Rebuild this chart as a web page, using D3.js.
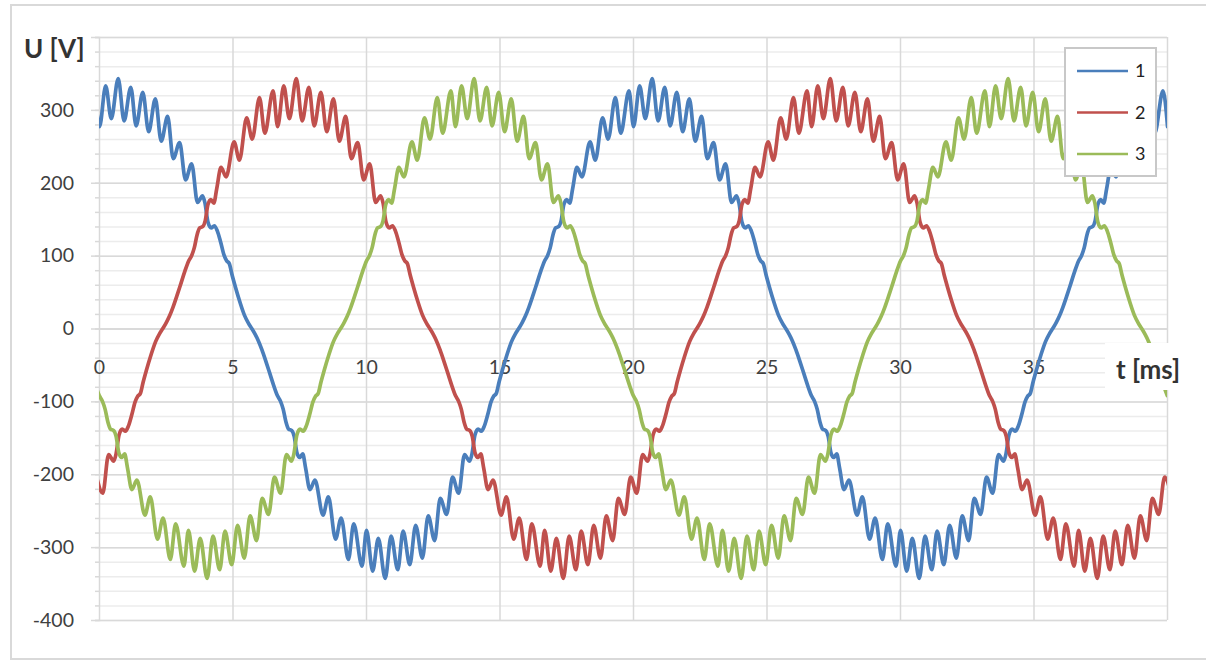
<!DOCTYPE html>
<html><head><meta charset="utf-8">
<script src="https://cdn.jsdelivr.net/npm/d3@7"></script>
<style>
body{margin:0;background:#fff}
svg{display:block}
text{font-family:Lato,"Open Sans","Liberation Sans",sans-serif}
</style>
</head><body>
<svg id="c" width="1206" height="665"></svg>
<script>
// ---------- data ----------
const seriesNames = ["1", "2", "3"];
const seriesColors = ["#4a7ebb", "#c0504d", "#9bbb59"];
const yMajorTicks = [-400, -300, -200, -100, 0, 100, 200, 300, 400];
const yTickLabels = ["-400", "-300", "-200", "-100", "0", "100", "200", "300", ""];
const xTicks = [0, 5, 10, 15, 20, 25, 30, 35, 40];
const xTickLabels = ["0", "5", "10", "15", "20", "25", "30", "35", ""];

// series 1 : time [ms] / voltage [V]
const t1 = [-0.15,
0.02,0.25,0.46,0.72,0.94,1.19,1.39,1.64,1.86,2.11,2.33,2.57,2.78,3.02,3.24,3.47,3.69,3.88,3.97,4.08,4.2,4.32,4.43,4.56,4.68,4.78,4.88,4.98,5.1,5.28,5.45,5.6,5.72,5.85,5.97,6.1,6.25,6.4,6.55,6.68,6.8,6.9,7,7.1,7.22,7.31,7.41,7.52,7.63,7.74,7.9,8.09,8.39,8.59,8.86,9.07,9.34,9.54,9.85,
10.02,10.25,10.46,10.72,10.94,11.19,11.39,11.64,11.86,12.11,12.33,12.57,12.78,13.02,13.24,13.47,13.69,13.88,13.97,14.08,14.2,14.32,14.43,14.56,14.68,14.78,14.88,14.98,15.1,15.28,15.45,15.6,15.72,15.85,15.97,16.1,16.25,16.4,16.55,16.68,16.8,16.9,17,17.1,17.22,17.31,17.41,17.52,17.63,17.74,17.9,18.09,18.39,18.59,18.86,19.07,19.34,19.54,19.85,
20.02,20.25,20.46,20.72,20.94,21.19,21.39,21.64,21.86,22.11,22.33,22.57,22.78,23.02,23.24,23.47,23.69,23.88,23.97,24.08,24.2,24.32,24.43,24.56,24.68,24.78,24.88,24.98,25.1,25.28,25.45,25.6,25.72,25.85,25.97,26.1,26.25,26.4,26.55,26.68,26.8,26.9,27,27.1,27.22,27.31,27.41,27.52,27.63,27.74,27.9,28.09,28.39,28.59,28.86,29.07,29.34,29.54,29.85,
30.02,30.25,30.46,30.72,30.94,31.19,31.39,31.64,31.86,32.11,32.33,32.57,32.78,33.02,33.24,33.47,33.69,33.88,33.97,34.08,34.2,34.32,34.43,34.56,34.68,34.78,34.88,34.98,35.1,35.28,35.45,35.6,35.72,35.85,35.97,36.1,36.25,36.4,36.55,36.68,36.8,36.9,37,37.1,37.22,37.31,37.41,37.52,37.63,37.74,37.9,38.09,38.39,38.59,38.86,39.07,39.34,39.54,39.85,
40.02];
const u1 = [326,
277,333,288,343,285,331,278,324,270,315,257,291,233,255,204,226,173,182,172,146,138,141,134,118,101,93,89,74,58,36,18,7,0,-8,-17,-29,-45,-62,-79,-92,-100,-111,-128,-138,-140,-148,-170,-177,-172,-192,-221,-208,-256,-231,-289,-260,-317,-268,-326,
-277,-333,-288,-343,-285,-331,-278,-324,-270,-315,-257,-291,-233,-255,-204,-226,-173,-182,-172,-146,-138,-141,-134,-118,-101,-93,-89,-74,-58,-36,-18,-7,0,8,17,29,45,62,79,92,100,111,128,138,140,148,170,177,172,192,221,208,256,231,289,260,317,268,326,
277,333,288,343,285,331,278,324,270,315,257,291,233,255,204,226,173,182,172,146,138,141,134,118,101,93,89,74,58,36,18,7,0,-8,-17,-29,-45,-62,-79,-92,-100,-111,-128,-138,-140,-148,-170,-177,-172,-192,-221,-208,-256,-231,-289,-260,-317,-268,-326,
-277,-333,-288,-343,-285,-331,-278,-324,-270,-315,-257,-291,-233,-255,-204,-226,-173,-182,-172,-146,-138,-141,-134,-118,-101,-93,-89,-74,-58,-36,-18,-7,0,8,17,29,45,62,79,92,100,111,128,138,140,148,170,177,172,192,221,208,256,231,289,260,317,268,326,
277];

// series 2
const t2 = [-0.09,
0.14,0.36,0.55,0.64,0.75,0.87,0.99,1.1,1.23,1.35,1.45,1.55,1.65,1.77,1.95,2.12,2.27,2.39,2.52,2.64,2.77,2.92,3.07,3.22,3.35,3.47,3.57,3.67,3.77,3.89,3.98,4.08,4.19,4.3,4.41,4.57,4.76,5.06,5.26,5.53,5.74,6.01,6.21,6.52,
6.69,6.92,7.13,7.39,7.61,7.86,8.06,8.31,8.53,8.78,9,9.24,9.45,9.69,9.91,10.14,10.36,10.55,10.64,10.75,10.87,10.99,11.1,11.23,11.35,11.45,11.55,11.65,11.77,11.95,12.12,12.27,12.39,12.52,12.64,12.77,12.92,13.07,13.22,13.35,13.47,13.57,13.67,13.77,13.89,13.98,14.08,14.19,14.3,14.41,14.57,14.76,15.06,15.26,15.53,15.74,16.01,16.21,16.52,
16.69,16.92,17.13,17.39,17.61,17.86,18.06,18.31,18.53,18.78,19,19.24,19.45,19.69,19.91,
20.14,20.36,20.55,20.64,20.75,20.87,20.99,21.1,21.23,21.35,21.45,21.55,21.65,21.77,21.95,22.12,22.27,22.39,22.52,22.64,22.77,22.92,23.07,23.22,23.35,23.47,23.57,23.67,23.77,23.89,23.98,24.08,24.19,24.3,24.41,24.57,24.76,25.06,25.26,25.53,25.74,26.01,26.21,26.52,
26.69,26.92,27.13,27.39,27.61,27.86,28.06,28.31,28.53,28.78,29,29.24,29.45,29.69,29.91,30.14,30.36,30.55,30.64,30.75,30.87,30.99,31.1,31.23,31.35,31.45,31.55,31.65,31.77,31.95,32.12,32.27,32.39,32.52,32.64,32.77,32.92,33.07,33.22,33.35,33.47,33.57,33.67,33.77,33.89,33.98,34.08,34.19,34.3,34.41,34.57,34.76,35.06,35.26,35.53,35.74,36.01,36.21,36.52,
36.69,36.92,37.13,37.39,37.61,37.86,38.06,38.31,38.53,38.78,39,39.24,39.45,39.69,39.91,
40.14];
const u2 = [-204,
-226,-173,-182,-172,-146,-138,-141,-134,-118,-101,-93,-89,-74,-58,-36,-18,-7,0,8,17,29,45,62,79,92,100,111,128,138,140,148,170,177,172,192,221,208,256,231,289,260,317,268,326,
277,333,288,343,285,331,278,324,270,315,257,291,233,255,204,226,173,182,172,146,138,141,134,118,101,93,89,74,58,36,18,7,0,-8,-17,-29,-45,-62,-79,-92,-100,-111,-128,-138,-140,-148,-170,-177,-172,-192,-221,-208,-256,-231,-289,-260,-317,-268,-326,
-277,-333,-288,-343,-285,-331,-278,-324,-270,-315,-257,-291,-233,-255,-204,
-226,-173,-182,-172,-146,-138,-141,-134,-118,-101,-93,-89,-74,-58,-36,-18,-7,0,8,17,29,45,62,79,92,100,111,128,138,140,148,170,177,172,192,221,208,256,231,289,260,317,268,326,
277,333,288,343,285,331,278,324,270,315,257,291,233,255,204,226,173,182,172,146,138,141,134,118,101,93,89,74,58,36,18,7,0,-8,-17,-29,-45,-62,-79,-92,-100,-111,-128,-138,-140,-148,-170,-177,-172,-192,-221,-208,-256,-231,-289,-260,-317,-268,-326,
-277,-333,-288,-343,-285,-331,-278,-324,-270,-315,-257,-291,-233,-255,-204,
-226];

// series 3
const t3 = [-0.12,
0.01,0.13,0.23,0.33,0.43,0.55,0.64,0.74,0.85,0.96,1.07,1.23,1.42,1.72,1.92,2.19,2.4,2.67,2.87,3.18,
3.35,3.58,3.79,4.05,4.27,4.52,4.72,4.97,5.19,5.44,5.66,5.9,6.11,6.35,6.57,6.8,7.02,7.21,7.3,7.41,7.53,7.65,7.76,7.89,8.01,8.11,8.21,8.31,8.43,8.61,8.78,8.93,9.05,9.18,9.3,9.43,9.58,9.73,9.88,10.01,10.13,10.23,10.33,10.43,10.55,10.64,10.74,10.85,10.96,11.07,11.23,11.42,11.72,11.92,12.19,12.4,12.67,12.87,13.18,
13.35,13.58,13.79,14.05,14.27,14.52,14.72,14.97,15.19,15.44,15.66,15.9,16.11,16.35,16.57,16.8,17.02,17.21,17.3,17.41,17.53,17.65,17.76,17.89,18.01,18.11,18.21,18.31,18.43,18.61,18.78,18.93,19.05,19.18,19.3,19.43,19.58,19.73,19.88,
20.01,20.13,20.23,20.33,20.43,20.55,20.64,20.74,20.85,20.96,21.07,21.23,21.42,21.72,21.92,22.19,22.4,22.67,22.87,23.18,
23.35,23.58,23.79,24.05,24.27,24.52,24.72,24.97,25.19,25.44,25.66,25.9,26.11,26.35,26.57,26.8,27.02,27.21,27.3,27.41,27.53,27.65,27.76,27.89,28.01,28.11,28.21,28.31,28.43,28.61,28.78,28.93,29.05,29.18,29.3,29.43,29.58,29.73,29.88,30.01,30.13,30.23,30.33,30.43,30.55,30.64,30.74,30.85,30.96,31.07,31.23,31.42,31.72,31.92,32.19,32.4,32.67,32.87,33.18,
33.35,33.58,33.79,34.05,34.27,34.52,34.72,34.97,35.19,35.44,35.66,35.9,36.11,36.35,36.57,36.8,37.02,37.21,37.3,37.41,37.53,37.65,37.76,37.89,38.01,38.11,38.21,38.31,38.43,38.61,38.78,38.93,39.05,39.18,39.3,39.43,39.58,39.73,39.88,
40.01];
const u3 = [-79,
-92,-100,-111,-128,-138,-140,-148,-170,-177,-172,-192,-221,-208,-256,-231,-289,-260,-317,-268,-326,
-277,-333,-288,-343,-285,-331,-278,-324,-270,-315,-257,-291,-233,-255,-204,-226,-173,-182,-172,-146,-138,-141,-134,-118,-101,-93,-89,-74,-58,-36,-18,-7,0,8,17,29,45,62,79,92,100,111,128,138,140,148,170,177,172,192,221,208,256,231,289,260,317,268,326,
277,333,288,343,285,331,278,324,270,315,257,291,233,255,204,226,173,182,172,146,138,141,134,118,101,93,89,74,58,36,18,7,0,-8,-17,-29,-45,-62,-79,
-92,-100,-111,-128,-138,-140,-148,-170,-177,-172,-192,-221,-208,-256,-231,-289,-260,-317,-268,-326,
-277,-333,-288,-343,-285,-331,-278,-324,-270,-315,-257,-291,-233,-255,-204,-226,-173,-182,-172,-146,-138,-141,-134,-118,-101,-93,-89,-74,-58,-36,-18,-7,0,8,17,29,45,62,79,92,100,111,128,138,140,148,170,177,172,192,221,208,256,231,289,260,317,268,326,
277,333,288,343,285,331,278,324,270,315,257,291,233,255,204,226,173,182,172,146,138,141,134,118,101,93,89,74,58,36,18,7,0,-8,-17,-29,-45,-62,-79,
-92];

// ---------- drawing ----------
const svg = d3.select("#c");
const L = 99, R = 1167, T = 37, B = 620;
const x = d3.scaleLinear().domain([0, 40]).range([L, R]);
const y = d3.scaleLinear().domain([-400, 400]).range([B, T]);
const yMinorTicks = y.ticks(40);

// outer frame
svg.append("rect").attr("x", 11).attr("y", 5).attr("width", 1210).attr("height", 654)
  .attr("fill", "none").attr("stroke", "#d9d9d9").attr("stroke-width", 2);

// minor horizontal gridlines
svg.append("g").attr("transform", `translate(${L},0)`)
  .call(d3.axisLeft(y).tickValues(yMinorTicks).tickSize(-(R - L)).tickFormat(""))
  .call(g => g.select(".domain").remove())
  .call(g => g.selectAll("line").attr("stroke", "#ececec").attr("stroke-width", 1.5));
// major horizontal gridlines
svg.append("g").attr("transform", `translate(${L},0)`)
  .call(d3.axisLeft(y).tickValues(yMajorTicks).tickSize(-(R - L)).tickFormat(""))
  .call(g => g.select(".domain").remove())
  .call(g => g.selectAll("line").attr("stroke", "#d9d9d9").attr("stroke-width", 1.5));
// vertical gridlines
svg.append("g").attr("transform", `translate(0,${B})`)
  .call(d3.axisBottom(x).tickValues(xTicks.slice(1)).tickSize(-(B - T)).tickFormat(""))
  .call(g => g.select(".domain").remove())
  .call(g => g.selectAll("line").attr("stroke", "#d9d9d9").attr("stroke-width", 1.5));

// y axis: minor ticks
svg.append("g").attr("transform", `translate(${L},0)`)
  .call(d3.axisLeft(y).tickValues(yMinorTicks).tickSize(4).tickFormat(""))
  .call(g => g.selectAll("line").attr("stroke", "#d9d9d9").attr("stroke-width", 1.5))
  .call(g => g.select(".domain").attr("stroke", "#d9d9d9").attr("stroke-width", 1.5));
// y axis: major ticks + labels
svg.append("g").attr("transform", `translate(${L},0)`)
  .call(d3.axisLeft(y).tickValues(yMajorTicks).tickSize(8).tickPadding(17)
    .tickFormat((d, i) => yTickLabels[i]))
  .call(g => g.select(".domain").remove())
  .call(g => g.selectAll("line").attr("stroke", "#d9d9d9").attr("stroke-width", 1.5))
  .call(g => g.selectAll("text").attr("fill", "#404040").style("font-size", "19.5px"));

// x axis at U = 0
svg.append("g").attr("transform", `translate(0,${y(0)})`)
  .call(d3.axisBottom(x).tickValues(xTicks).tickSize(0).tickPadding(32)
    .tickFormat((d, i) => xTickLabels[i]))
  .call(g => g.select(".domain").attr("stroke", "#d9d9d9").attr("stroke-width", 1.5))
  .call(g => g.selectAll("text").attr("fill", "#404040").style("font-size", "19.5px"));

// series
svg.append("defs").append("clipPath").attr("id", "plot")
  .append("rect").attr("x", L).attr("y", T - 5).attr("width", R - L).attr("height", B - T + 10);
const line = d3.line().x(d => x(d[0])).y(d => y(d[1])).curve(d3.curveMonotoneX);
const series = [[t1, u1], [t2, u2], [t3, u3]];
const gS = svg.append("g").attr("clip-path", "url(#plot)");
series.forEach(([ts, us], i) => {
  gS.append("path").datum(ts.map((t, k) => [t, us[k]]))
    .attr("fill", "none").attr("stroke", seriesColors[i]).attr("stroke-width", 3.7)
    .attr("stroke-linejoin", "round").attr("stroke-linecap", "round").attr("d", line);
});

// axis titles
svg.append("text").attr("x", 24).attr("y", 58).text("U [V]")
  .attr("fill", "#333").style("font-size", "26px").style("font-weight", "bold");
svg.append("rect").attr("x", 1105).attr("y", 343).attr("width", 101).attr("height", 47).attr("fill", "#fff");
svg.append("text").attr("x", 1116).attr("y", 379).text("t [ms]")
  .attr("fill", "#333").style("font-size", "26px").style("font-weight", "bold");

// legend
const lg = svg.append("g");
lg.append("rect").attr("x", 1065).attr("y", 48).attr("width", 91).attr("height", 128)
  .attr("fill", "#fff").attr("stroke", "#c8c8c8").attr("stroke-width", 2);
const legY = d3.scalePoint().domain(seriesNames).range([71, 154]);
seriesNames.forEach((n, i) => {
  lg.append("line").attr("x1", 1077).attr("x2", 1128).attr("y1", legY(n)).attr("y2", legY(n))
    .attr("stroke", seriesColors[i]).attr("stroke-width", 2.5);
  lg.append("text").attr("x", 1135).attr("y", legY(n) + 6).text(n)
    .attr("fill", "#222").style("font-size", "18px");
});
</script>
</body></html>
